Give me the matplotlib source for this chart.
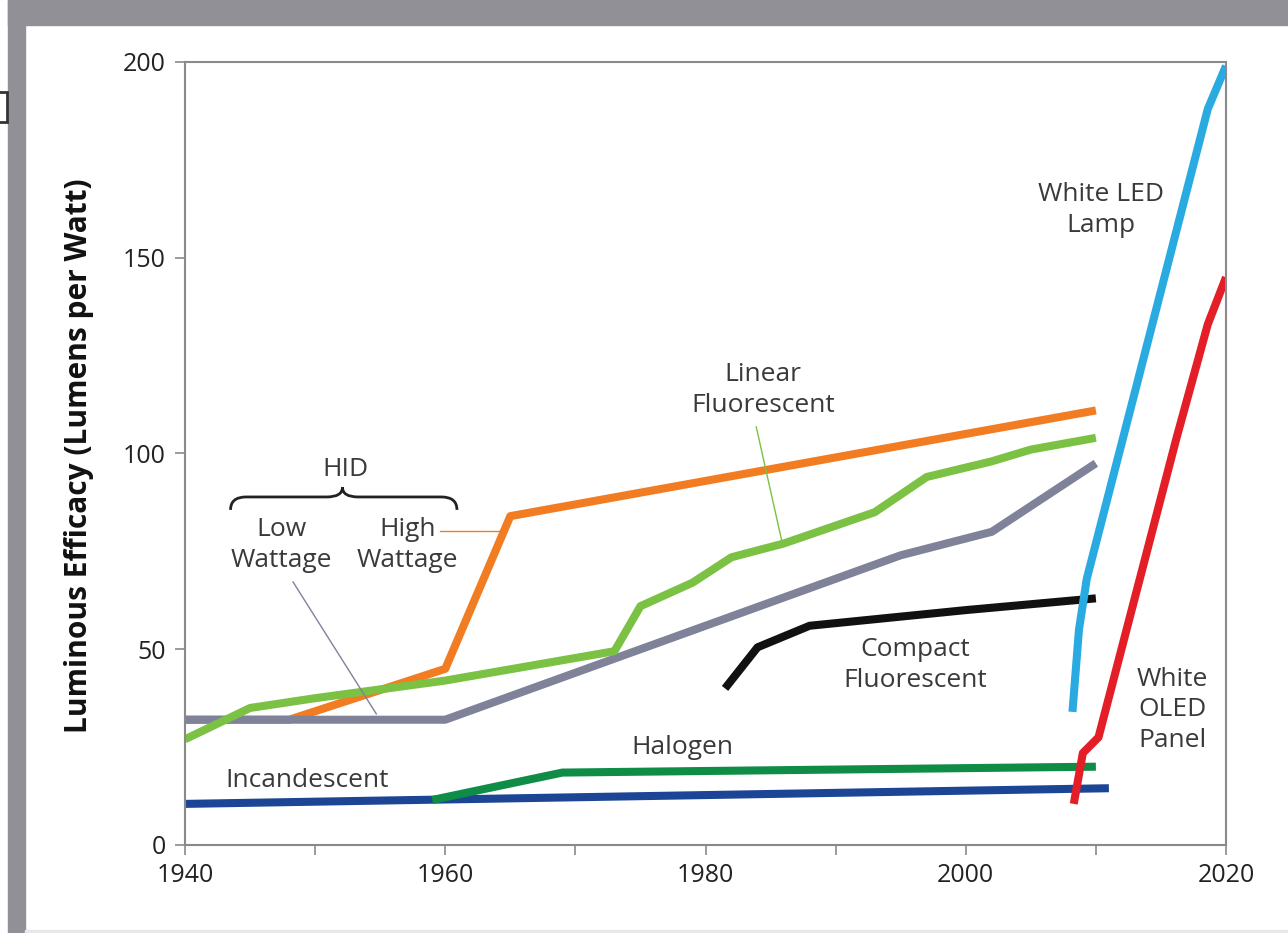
import matplotlib
matplotlib.use("Agg")
import matplotlib.pyplot as plt
from matplotlib.patches import Rectangle, PathPatch
from matplotlib.path import Path

plt.rcParams['font.family'] = ['Open Sans', 'DejaVu Sans']

# Luminous efficacy data (lumens per watt)
incandescent_year = [1940, 2011]
incandescent_eff = [10.5, 14.5]

halogen_year = [1959, 1969, 2010]
halogen_eff = [11.5, 18.5, 20]

hid_low_year = [1940, 1960, 1995, 2002, 2010]
hid_low_eff = [32, 32, 74, 80, 97.5]

hid_high_year = [1940, 1948, 1960, 1965, 2010]
hid_high_eff = [32, 32, 45, 84, 111]

linear_fl_year = [1940, 1945, 1950, 1960, 1973, 1975, 1979, 1982, 1986, 1993, 1997, 2002, 2005, 2010]
linear_fl_eff = [27, 35, 37.5, 42, 49.5, 61, 67, 73.5, 77, 85, 94, 98, 101, 104]

compact_fl_year = [1981.5, 1984, 1988, 2000, 2010]
compact_fl_eff = [40, 50.5, 56, 60, 63]

led_year = [2008.2, 2008.7, 2009.3, 2018.6, 2020]
led_eff = [34, 55, 68, 188, 199]

oled_year = [2008.3, 2009, 2010.2, 2016.2, 2018.6, 2020]
oled_eff = [10.5, 23.5, 27.5, 104, 133, 145]

W, H = 1288, 933
fig = plt.figure(figsize=(W / 100, H / 100), dpi=100)

# grey frame of the screenshot
fig.patches.append(Rectangle((8 / W, 1 - 25 / H), 1, 25 / H, transform=fig.transFigure,
                             color='#909096', zorder=0))
fig.patches.append(Rectangle((8 / W, 0), 17 / W, 1, transform=fig.transFigure,
                             color='#909096', zorder=0))
fig.patches.append(Rectangle((-4 / W, 1 - 122 / H), 11 / W, 30 / H, transform=fig.transFigure,
                             fill=False, edgecolor='#333333', lw=2, zorder=0))
fig.patches.append(Rectangle((25 / W, 0), 1, 3 / H, transform=fig.transFigure,
                             color='#e8e8e8', zorder=0))

ax = fig.add_axes([185 / W, 88 / H, 1041 / W, 783 / H])

lw = 5.8
ax.plot(incandescent_year, incandescent_eff, color='#1c4595', lw=lw, solid_capstyle='butt')
ax.plot(halogen_year, halogen_eff, color='#0f8c46', lw=lw, solid_capstyle='butt')
ax.plot(hid_high_year, hid_high_eff, color='#f27c22', lw=lw, solid_capstyle='butt')
ax.plot(hid_low_year, hid_low_eff, color='#7f8299', lw=lw, solid_capstyle='butt')
ax.plot(linear_fl_year, linear_fl_eff, color='#7bc143', lw=lw, solid_capstyle='butt')
ax.plot(compact_fl_year, compact_fl_eff, color='#111111', lw=lw, solid_capstyle='butt')
ax.plot(led_year, led_eff, color='#29abe2', lw=lw, solid_capstyle='butt')
ax.plot(oled_year, oled_eff, color='#e31e26', lw=lw, solid_capstyle='butt')

ax.set_xlim(1940, 2020)
ax.set_ylim(0, 200)
ax.set_xticks(range(1940, 2021, 10))
ax.set_xticklabels([str(y) if y % 20 == 0 else '' for y in range(1940, 2021, 10)])
ax.set_yticks([0, 50, 100, 150, 200])
for s in ax.spines.values():
    s.set_color('#8a8a8a')
    s.set_linewidth(1.5)
ax.tick_params(axis='both', colors='#8a8a8a', labelcolor='#222222', labelsize=18,
               length=7, width=1.2, direction='out')
ax.tick_params(axis='y', pad=7)
ax.tick_params(axis='x', pad=6)

fig.text(79 / W, 1 - 456 / H, 'Luminous Efficacy (Lumens per Watt)', rotation=90,
         ha='center', va='center', fontsize=21.5, fontweight='bold', color='#111111')

tc = '#3a3a3a'
fs = 19
ls = 1.28
ax.text(1952.3, 95.8, 'HID', ha='center', va='center', fontsize=fs, color=tc)
ax.text(1947.4, 76.6, 'Low\nWattage', ha='center', va='center', fontsize=fs, color=tc, linespacing=ls)
ax.text(1957.1, 76.6, 'High\nWattage', ha='center', va='center', fontsize=fs, color=tc, linespacing=ls)
ax.text(1984.4, 116.2, 'Linear\nFluorescent', ha='center', va='center', fontsize=fs, color=tc, linespacing=ls)
ax.text(1996.1, 46.0, 'Compact\nFluorescent', ha='center', va='center', fontsize=fs, color=tc, linespacing=ls)
ax.text(1978.2, 24.8, 'Halogen', ha='center', va='center', fontsize=fs, color=tc)
ax.text(1949.4, 16.6, 'Incandescent', ha='center', va='center', fontsize=fs, color=tc)
ax.text(2010.4, 162.2, 'White LED\nLamp', ha='center', va='center', fontsize=fs, color=tc, linespacing=ls)
ax.text(2015.9, 34.5, 'White\nOLED\nPanel', ha='center', va='center', fontsize=fs, color=tc, linespacing=ls)

# leader lines
ax.plot([1959.6, 1964.6], [80.2, 80.2], color='#f27c22', lw=1)
ax.plot([1948.3, 1954.7], [67.2, 33.5], color='#7f8299', lw=1)
ax.plot([1983.9, 1985.9], [106.8, 77.1], color='#7bc143', lw=1)

# curly brace over the HID labels
x0, xc, x1 = 1943.5, 1952.1, 1960.9
yt, ym, yp = 85.6, 88.9, 91.4
d = 1.2
verts = [(x0, yt), (x0, ym), (x0 + d, ym),
         (xc - d, ym), (xc, ym), (xc, yp),
         (xc, ym), (xc + d, ym),
         (x1 - d, ym), (x1, ym), (x1, yt)]
codes = [Path.MOVETO, Path.CURVE3, Path.CURVE3,
         Path.LINETO, Path.CURVE3, Path.CURVE3,
         Path.CURVE3, Path.CURVE3,
         Path.LINETO, Path.CURVE3, Path.CURVE3]
ax.add_patch(PathPatch(Path(verts, codes), fill=False, edgecolor='#222222', lw=2))

fig.savefig('out.png', dpi=100)
